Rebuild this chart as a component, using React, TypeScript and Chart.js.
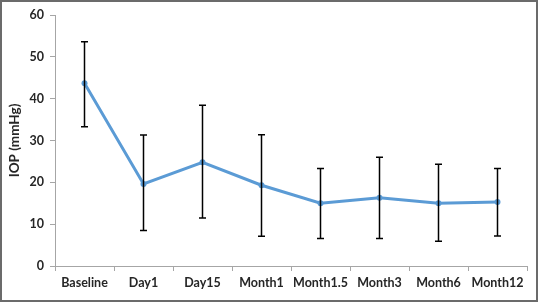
import React, { useEffect, useRef } from "react";
import { Chart, registerables } from "chart.js";

Chart.register(...registerables);

const categories = ["Baseline", "Day1", "Day15", "Month1", "Month1.5", "Month3", "Month6", "Month12"];
const meanIOP = [43.7, 19.6, 24.8, 19.3, 15.0, 16.3, 15.0, 15.3];
const upperIOP = [53.6, 31.3, 38.4, 31.4, 23.3, 26.0, 24.3, 23.3];
const lowerIOP = [33.3, 8.5, 11.5, 7.1, 6.6, 6.6, 5.9, 7.2];
const yTicks = [0, 10, 20, 30, 40, 50, 60];

const errorBarPlugin = {
  id: "errorBars",
  afterDatasetsDraw(chart: any) {
    const { ctx, scales } = chart;
    const xs = scales.x;
    const ys = scales.y;
    ctx.save();
    ctx.strokeStyle = "#000000";
    ctx.lineWidth = 1.5;
    categories.forEach((_, i) => {
      const x = xs.getPixelForValue(i);
      const yt = ys.getPixelForValue(upperIOP[i]);
      const yb = ys.getPixelForValue(lowerIOP[i]);
      ctx.beginPath();
      ctx.moveTo(x, yt);
      ctx.lineTo(x, yb);
      ctx.moveTo(x - 3.5, yt);
      ctx.lineTo(x + 3.5, yt);
      ctx.moveTo(x - 3.5, yb);
      ctx.lineTo(x + 3.5, yb);
      ctx.stroke();
    });
    ctx.restore();
  },
};

export default function App() {
  const ref = useRef<HTMLCanvasElement>(null);
  useEffect(() => {
    document.body.style.margin = "0";
    const font = { family: "Lato, 'Open Sans', sans-serif", size: 12.5, weight: "bold" as const };
    const titleFont = { family: "Lato, 'Open Sans', sans-serif", size: 13.5, weight: "bold" as const };
    const chart = new Chart(ref.current!, {
      type: "line",
      data: {
        labels: categories,
        datasets: [
          {
            data: meanIOP,
            borderColor: "#5B9BD5",
            backgroundColor: "#5B9BD5",
            borderWidth: 3,
            pointRadius: 3,
            pointBorderWidth: 0,
            tension: 0,
          },
        ],
      },
      options: {
        animation: false,
        responsive: false,
        layout: { padding: { top: 15, right: 11, left: 0, bottom: 0 } },
        plugins: { legend: { display: false }, tooltip: { enabled: false } },
        scales: {
          x: {
            offset: true,
            grid: { drawOnChartArea: false, color: "#A6A6A6", tickLength: 5, offset: true },
            border: { color: "#A6A6A6", width: 1 },
            ticks: { color: "#262626", font, padding: 4, maxRotation: 0, autoSkip: false },
            afterFit(scale: any) { scale.height = 36; },
          },
          y: {
            min: 0,
            max: 60,
            afterBuildTicks(scale: any) { scale.ticks = yTicks.map((v) => ({ value: v })); },
            grid: { drawOnChartArea: false, color: "#A6A6A6", tickLength: 5 },
            border: { color: "#A6A6A6", width: 1 },
            ticks: { color: "#262626", font, padding: 6 },
            title: { display: true, text: "IOP (mmHg)", color: "#262626", font: titleFont, padding: { top: 7, bottom: 0 } },
            afterFit(scale: any) { scale.width = 55; },
          },
        },
      },
      plugins: [errorBarPlugin],
    });
    return () => chart.destroy();
  }, []);
  return (
    <div style={{ position: "relative", width: 538, height: 302 }}>
      <canvas ref={ref} width={538} height={302} style={{ display: "block" }} />
      <div style={{ position: "absolute", inset: 0, border: "2px solid #6b6b6b", boxSizing: "border-box", pointerEvents: "none" }} />
    </div>
  );
}
